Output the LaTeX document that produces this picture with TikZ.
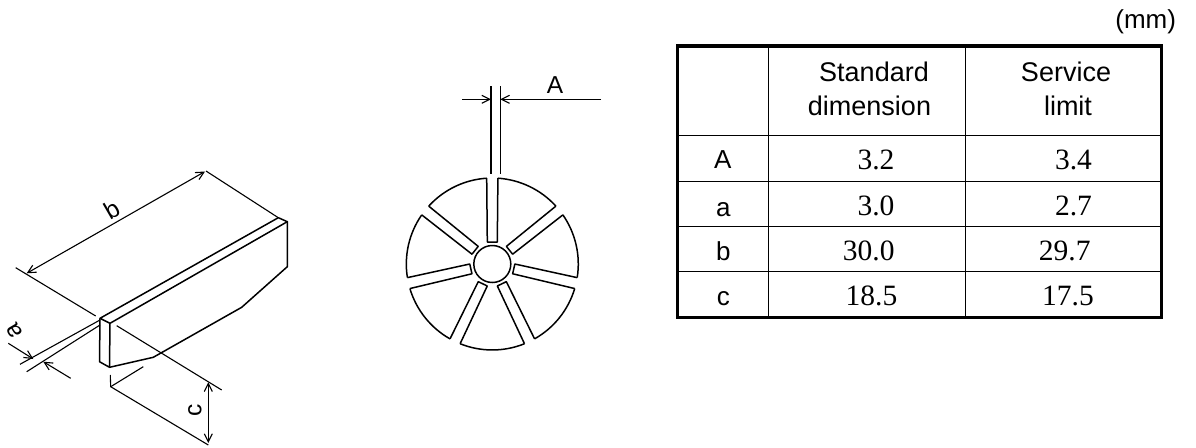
\documentclass[tikz,border=0pt]{standalone}
\usepackage{fontspec}
\setmainfont{Liberation Sans}
\newfontfamily\serifnum{Liberation Serif}
\usetikzlibrary{arrows.meta}
\tikzset{
  thinline/.style={line width=1.1pt,black},
  edge/.style={line width=1.5pt,black,line join=round},
  dim/.style={line width=1.1pt,black,{Straight Barb[length=8pt,width=8pt]}-{Straight Barb[length=8pt,width=8pt]}},
  dimr/.style={line width=1.1pt,black,-{Straight Barb[length=8pt,width=8pt]}},
  lab/.style={inner sep=0pt,font=\fontsize{24.5}{24.5}\selectfont},
  hd/.style={inner sep=0pt,anchor=base,font=\fontsize{27}{27}\selectfont},
  rowlab/.style={inner sep=0pt,anchor=base,font=\fontsize{26}{26}\selectfont},
  num/.style={inner sep=0pt,anchor=base,font=\serifnum\fontsize{29.5}{29.5}\selectfont},
}
\begin{document}
\begin{tikzpicture}[x=1pt,y=-1pt]
\useasboundingbox (0,0) rectangle (1196,447);
% block
\draw[edge] (100,318.3)--(110,323.3)--(287.3,221.7)--(278.3,217.7)--cycle;
\draw[edge] (100,318.3)--(99.5,361.7)--(109.5,367.3)--(110,323.3);
\draw[edge] (109.5,367.3)--(153.3,357.3)--(241.7,307.3)--(287.3,266.7)--(287.3,221.7);
% b
\coordinate (b1) at (15.7,267.7); \coordinate (b2) at (95.7,316);
\coordinate (b3) at (206,171); \coordinate (b4) at (278.3,217.7);
\draw[thinline] (b1)--(b2);
\draw[thinline] (b3)--(b4);
\draw[dim] (26.7,273.3)--(205,171.5);
\node[lab,rotate=30] (lb) at (111.7,210) {b};
% a
\coordinate (a1) at (100,320); \coordinate (a2) at (20,364.3);
\coordinate (a3) at (100,325); \coordinate (a4) at (26.7,371.7);
\draw[thinline] (a1)--(a2);
\draw[thinline] (a3)--(a4);
\draw[dimr] (8.3,343.3)--(33.3,359);
\draw[dimr] (70.7,378.3)--(43.3,361.7);
\node[lab,rotate=120] (la) at (14,330.7) {a};
% c
\coordinate (c1) at (116.7,325.7); \coordinate (c2) at (221.7,390);
\coordinate (c3) at (110.7,386.7); \coordinate (c4) at (208.3,445);
\draw[thinline] (c1)--(c2);
\draw[thinline] (110.3,375)--(c3)--(c4);
\draw[thinline] (c3)--(143.3,366.7);
\draw[dim] (208.3,382.3)--(208.3,443);
\node[lab,rotate=90] (lc) at (195,410.7) {c};
% wheel
\begin{scope}[x=1pt,y=1pt,shift={(492.3pt,-264pt)}]
\draw[edge] (0,0) circle (18.5);
\foreach \k in {0,...,6}{
  \begin{scope}[rotate={-\k*51.4286}]
    \draw[edge] (-5.6,85.8)--(-5,22)--(5,22)--(5.6,85.8);
    \draw[edge] (5.6,85.8) arc[start angle=86.26,end angle=42.31,radius=86];
  \end{scope}
}
\end{scope}
% A
\coordinate (A1) at (491,86); \coordinate (A2) at (491,174);
\coordinate (A3) at (500.3,86); \coordinate (A4) at (500.3,174);
\draw[thinline] (A1)--(A2);
\draw[thinline] (A3)--(A4);
\draw[dimr] (462.3,99.3)--(A1|-462.3,99.3);
\draw[dimr] (601,99.3)--(A3|-601,99.3);
\node[lab,anchor=base] (lA) at (555,93) {A};
% table
\draw[line width=3.2pt] (677.7,46)rectangle(1161.5,317.2);
\draw[line width=1pt] (768.3,46)--(768.3,317.2) (965.3,46)--(965.3,317.2)
  (677.7,135.3)--(1161.5,135.3) (677.7,181.3)--(1161.5,181.3)
  (677.7,226.3)--(1161.5,226.3) (677.7,271.3)--(1161.5,271.3);
\node[rowlab] (mm) at (1145.7,28.3) {(mm)};
\node[hd] (h1) at (874,81.7) {Standard};
\node[hd] (h2) at (869.5,115.7) {dimension};
\node[hd] (h3) at (1066,81.7) {Service};
\node[hd] (h4) at (1068,115.7) {limit};
\node[rowlab] (r1) at (722.7,168.7) {A};
\node[rowlab] (r2) at (723.3,216) {a};
\node[rowlab] (r3) at (723.3,260.7) {b};
\node[rowlab] (r4) at (723.3,305.7) {c};
\node[num] (n1) at (876,169.3) {3.2};
\node[num] (n2) at (876,215.3) {3.0};
\node[num] (n3) at (868.7,260) {30.0};
\node[num] (n4) at (871.5,305) {18.5};
\node[num] (m1) at (1073.5,169.3) {3.4};
\node[num] (m2) at (1073.5,215) {2.7};
\node[num] (m3) at (1064.7,260) {29.7};
\node[num] (m4) at (1068,305) {17.5};
\end{tikzpicture}
\end{document}
